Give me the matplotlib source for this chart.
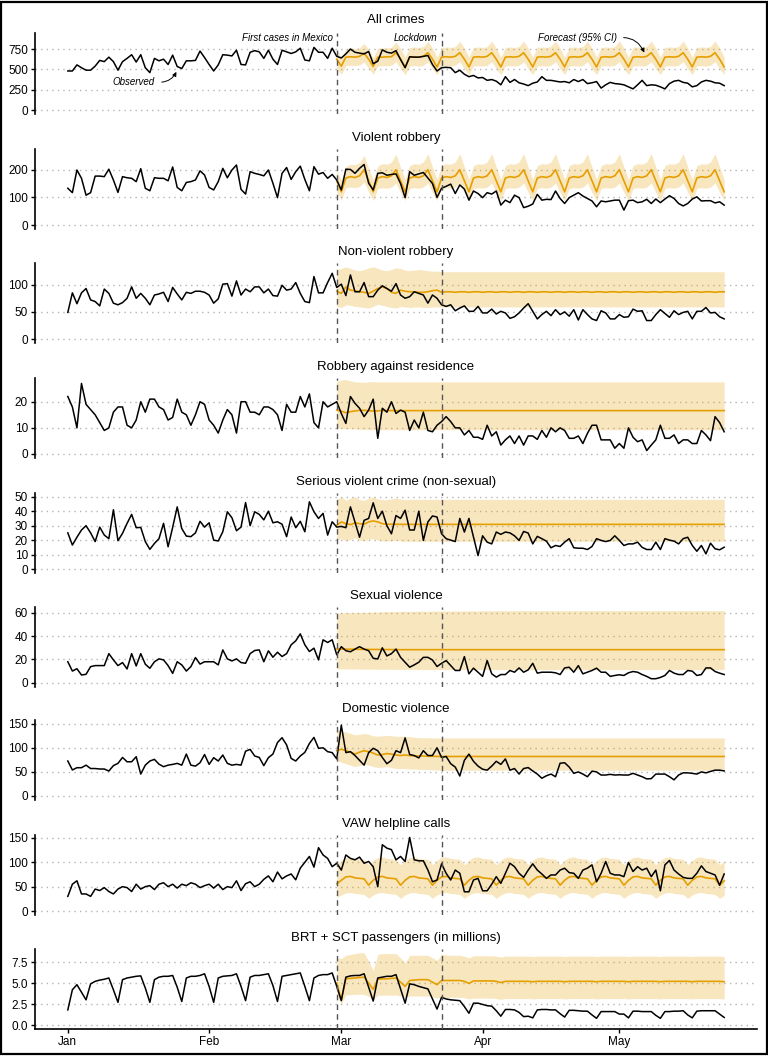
import matplotlib
matplotlib.use("Agg")
import matplotlib.pyplot as plt
import matplotlib.dates as mdates
import pandas as pd
from matplotlib.patches import Rectangle

plt.rcParams['font.family'] = ['Liberation Sans', 'DejaVu Sans']

# ---------------- data ----------------
dates = pd.date_range("2020-01-01", "2020-05-24", freq="D")
fc_dates = pd.date_range("2020-02-29", "2020-05-24", freq="D")
first_cases = pd.Timestamp("2020-02-29")
lockdown = pd.Timestamp("2020-03-23")

titles = ["All crimes", "Violent robbery", "Non-violent robbery", "Robbery against residence",
          "Serious violent crime (non-sexual)", "Sexual violence", "Domestic violence",
          "VAW helpline calls", "BRT + SCT passengers (in millions)"]

month_ticks = ["2020-01-01", "2020-02-01", "2020-03-01", "2020-04-01", "2020-05-01"]
month_labels = ["Jan", "Feb", "Mar", "Apr", "May"]

# 1 All crimes
obs1 = [480,480,555,520,490,490,540,610,595,650, 595,490,595,635,680,590,680,520,460,635,
        605,625,560,675,535,510,605,605,610,725, 645,560,480,555,680,675,665,735,560,555,
        710,730,715,635,735,625,560,735,715,695, 715,760,615,605,770,710,710,635,760,660,
        640,690,750,710,700,690,720,570,600,740, 710,700,730,620,520,655,650,650,660,670,
        560,480,520,525,520,460,490,440,410,425, 395,400,365,375,355,310,410,340,375,335,
        320,300,330,345,410,365,365,355,345,350, 335,375,350,375,325,335,350,270,310,340,
        325,320,310,285,260,310,365,300,310,305, 285,260,325,355,365,340,330,285,300,345,
        365,355,335,330,300]
fc1_mean = [625,
            540,650,655,650,660,700,625, 535,650,650,655,655,705,630,
            530,650,655,650,660,705,625, 530,650,655,650,660,705,625,
            530,650,655,650,660,705,625, 530,650,655,650,660,705,625,
            530,650,655,650,660,705,625, 530,650,655,650,660,705,625,
            530,650,655,650,660,705,625, 530,650,655,650,660,705,625,
            530,650,655,650,660,705,625, 530,650,655,650,660,705,625,
            530]
fc1_hi = [750,
          640,750,760,755,765,820,745, 645,760,765,765,770,835,755,
          650,770,775,770,780,845,760, 650,770,775,770,780,845,760,
          650,770,775,770,780,848,760, 650,770,775,770,780,848,760,
          650,770,775,770,780,850,760, 650,770,775,770,780,850,760,
          650,770,775,770,780,850,760, 650,770,775,770,780,850,760,
          650,770,775,770,780,850,760, 650,770,775,770,780,850,760,
          650]
fc1_lo = [500,
          440,545,550,545,555,590,510, 440,540,545,545,550,595,510,
          435,540,545,540,550,595,505, 435,540,545,540,550,595,505,
          435,540,545,540,550,595,505, 435,540,545,540,550,595,505,
          435,540,545,540,550,595,505, 435,540,545,540,550,595,505,
          435,540,545,540,550,595,505, 435,540,545,540,550,595,505,
          435,540,545,540,550,595,505, 435,540,545,540,550,595,505,
          435]

# 2 Violent robbery
obs2 = [133,117,199,169,108,117,177,177,175,202, 163,118,175,171,169,157,204,133,124,171,
        169,169,160,210,136,124,154,157,163,196, 181,136,127,157,205,171,199,217,129,112,
        193,187,183,178,199,151,99,187,208,165, 193,213,165,124,211,184,190,169,183,163,
        127,202,201,187,205,219,151,127,187,189, 180,183,185,150,99,193,180,185,190,170,
        150,100,133,140,148,114,145,130,90,123, 114,99,117,112,123,72,90,81,108,99,
        63,68,76,111,90,93,92,123,96,78, 99,108,117,105,96,87,66,87,84,87,
        90,90,54,88,90,81,84,93,78,94, 81,94,106,96,78,69,78,94,102,87,
        88,88,80,84,72]
fc2_mean = [160,
            120,170,175,172,178,200,160, 120,170,175,172,178,200,160,
            120,170,175,172,178,200,160, 120,170,175,172,178,200,160,
            120,170,175,172,178,200,160, 120,170,175,172,178,200,160,
            120,170,175,172,178,200,160, 120,170,175,172,178,200,160,
            120,170,175,172,178,200,160, 120,170,175,172,178,200,160,
            120,170,175,172,178,200,160, 120,170,175,172,178,200,160,
            120]
fc2_hi = [200,
          160,212,220,218,226,252,205, 163,214,222,220,228,256,208,
          165,215,222,220,228,258,210, 165,215,222,220,228,258,210,
          165,215,222,220,228,258,210, 165,215,222,220,228,258,210,
          165,215,222,220,228,258,210, 165,215,222,220,228,258,210,
          165,215,222,220,228,258,210, 165,215,222,220,228,258,210,
          165,215,222,220,228,258,210, 165,215,222,220,228,258,210,
          165]
fc2_lo = [120,
          90,134,137,135,139,155,120, 88,132,135,133,137,152,118,
          88,132,135,133,137,152,118, 88,132,135,133,137,152,118,
          88,132,135,133,137,152,118, 88,132,135,133,137,152,118,
          88,132,135,133,137,152,118, 88,132,135,133,137,152,118,
          88,132,135,133,137,152,118, 88,132,135,133,137,152,118,
          88,132,135,133,137,152,118, 88,132,135,133,137,152,118,
          88]

# 3 Non-violent robbery
obs3 = [49,85,65,85,93,72,69,61,92,84, 66,63,67,75,96,75,84,75,63,81,
        83,86,69,95,83,72,86,84,88,88, 86,81,66,74,101,102,79,107,81,92,
        87,96,96,85,92,80,79,99,90,92, 104,84,69,67,115,85,85,104,121,95,
        101,80,118,87,87,104,78,78,90,98, 93,88,102,81,75,78,87,84,81,66,
        81,75,63,60,63,52,57,61,51,51, 60,48,48,55,46,51,48,38,41,48,
        57,65,51,37,45,51,43,54,45,50, 42,54,35,54,45,37,34,52,48,37,
        37,45,40,41,55,51,52,34,34,45, 54,47,40,52,45,49,51,37,51,51,
        58,48,49,41,37]
fc3_mean = [88,84,96,90,89,87,86,84,88,93, 96,93,86,84,90,88,87,87,86,86,
            87,89,90,86,87,87,86,87,87,86, 87,87,86,87,87,86,87,87,86,87,
            87,86,87,87,86,87,87,86,87,87, 86,87,87,86,87,87,86,87,87,86,
            87,87,86,87,87,86,87,87,86,87, 87,86,87,87,86,87,87,86,87,87,
            86,87,87,86,87,87]
fc3_hi = [128,130,133,130,127,126,128,131,133,130, 127,126,128,131,130,127,126,127,128,127,
          126,125,125,124,124,124,124,124,124,124, 124,124,124,124,124,124,124,124,124,124,
          124,124,124,124,124,124,124,124,124,124, 124,124,124,124,124,124,124,124,124,124,
          124,124,124,124,124,124,124,124,124,124, 124,124,124,124,124,124,124,124,124,124,
          124,124,124,124,124,124]
fc3_lo = [60,58,63,62,60,59,58,57,60,64, 62,60,58,57,60,59,58,59,59,58,
          58,59,59,59,59,59,59,59,59,59, 59,59,59,59,59,59,59,59,59,59,
          59,59,59,59,59,59,59,59,59,59, 59,59,59,59,59,59,59,59,59,59,
          59,59,59,59,59,59,59,59,59,59, 59,59,59,59,59,59,59,59,59,59,
          59,59,59,59,59,59]

# 4 Robbery against residence
obs4 = [22,18,10,27,19,17,15,12,9,10, 16,18,18,11,10,13,20,16,21,21,
        18,17,13,14,21,16,15,11,15,20, 19,13,11,8,13,17,15,8,20,20,
        16,16,15,18,18,17,15,9,19,16, 16,22,18,23,12,10,20,18,19,20,
        15.5,11.7,22,19.4,17.5,14.3,16.8,21,6,17.5, 16,20,15.5,16.8,16,9,13,10,16,9,
        8.5,11,12.4,14.3,12.4,10,10,7.3,9,6.4, 6.4,5.6,11,6.9,8.5,3.4,5.4,6.9,4,6.9,
        3.4,6.9,6.9,5.6,9,6.4,10,8.5,10,9, 6,6,6.9,4,7.9,11,11,5.4,5.4,5.4,
        2.2,4,2.2,10,6.4,4.7,5.4,1.3,3.4,5.4, 11,6,6,7.3,4,5.4,5.4,4,4,9,
        7.3,5.1,14.3,12,8.5]
fc4_mean = [16.8,16.4,15.8,16.2,16.5,16.7,16.7,16.6,16.4,16.5, 16.7,16.6,16.6,16.6,16.6,16.6,16.6,16.6,16.6,16.6,
            16.6,16.6,16.6,16.6,16.6,16.6,16.6,16.6,16.6,16.6, 16.6,16.6,16.6,16.6,16.6,16.6,16.6,16.6,16.6,16.6,
            16.6,16.6,16.6,16.6,16.6,16.6,16.6,16.6,16.6,16.6, 16.6,16.6,16.6,16.6,16.6,16.6,16.6,16.6,16.6,16.6,
            16.6,16.6,16.6,16.6,16.6,16.6,16.6,16.6,16.6,16.6, 16.6,16.6,16.6,16.6,16.6,16.6,16.6,16.6,16.6,16.6,
            16.6,16.6,16.6,16.6,16.6,16.6]
fc4_hi = [27.8,28.3,28.5,28.0,27.6,27.5,27.5,27.6,27.7,27.6, 27.6,27.6,27.6,27.6,27.6,27.6,27.6,27.6,27.6,27.6,
          27.6,27.6,27.6,27.6,27.6,27.6,27.6,27.6,27.6,27.6, 27.6,27.6,27.6,27.6,27.6,27.6,27.6,27.6,27.6,27.6,
          27.6,27.6,27.6,27.6,27.6,27.6,27.6,27.6,27.6,27.6, 27.6,27.6,27.6,27.6,27.6,27.6,27.6,27.6,27.6,27.6,
          27.6,27.6,27.6,27.6,27.6,27.6,27.6,27.6,27.6,27.6, 27.6,27.6,27.6,27.6,27.6,27.6,27.6,27.6,27.6,27.6,
          27.6,27.6,27.6,27.6,27.6,27.6]
fc4_lo = [10.0,9.8,9.6,9.7,9.6,9.5,9.4,9.4,9.3,9.3, 9.3,9.3,9.3,9.3,9.3,9.3,9.3,9.3,9.3,9.3,
          9.3,9.3,9.3,9.3,9.3,9.3,9.3,9.3,9.3,9.3, 9.3,9.3,9.3,9.3,9.3,9.3,9.3,9.3,9.3,9.3,
          9.3,9.3,9.3,9.3,9.3,9.3,9.3,9.3,9.3,9.3, 9.3,9.3,9.3,9.3,9.3,9.3,9.3,9.3,9.3,9.3,
          9.3,9.3,9.3,9.3,9.3,9.3,9.3,9.3,9.3,9.3, 9.3,9.3,9.3,9.3,9.3,9.3,9.3,9.3,9.3,9.3,
          9.3,9.3,9.3,9.3,9.3,9.3]

# 5 Serious violent crime
obs5 = [25,16.6,22,27,30,25,19,29,23.5,21, 41,19.6,24.7,31.6,37.8,28.6,28.8,19,13.6,17.7,
        21,31.6,15.4,28.8,43,28,22.8,22.4,25,33, 29,32,20,19.4,25.8,39.6,35.5,26.5,29,46,
        30,39.6,37.8,34,40,32,32.7,31,22.4,36, 28.6,33,25.8,46.5,39.6,35,38.5,23.5,32.7,29,
        29.5,28.6,43,32.6,22,33.7,35,45.8,35,40, 30,24.4,37,35,40.7,27,27,40,19.8,32.6,
        36.7,36,24.4,21,20,19,35,25.6,35,22, 9.3,23,18.6,17.4,25.6,24,25.6,25,23,19.8,
        26,24.9,17.4,22.6,21,19.3,14.7,16.3,15.6,18.6, 21,14.7,14.4,14.4,13.5,15.6,21,19.8,19,19.8,
        23,19.8,16.3,17.4,17.4,18.6,15,13.5,13.5,18.6, 13.5,21,20,19.3,17.4,21,22,16.3,12.3,16.3,
        10.5,17.9,14,13.3,15.1]
fc5_mean = [30.2,32.6,31.4,30.7,31.9,31.4,31,32.6,33.3,32.6, 31.4,31,31,31,30.9,30.9,30.9,30.9,30.9,30.9,
            30.9,30.9,30.9,30.9,30.9,30.9,30.9,30.9,30.9,30.9, 30.9,30.9,30.9,30.9,30.9,30.9,30.9,30.9,30.9,30.9,
            30.9,30.9,30.9,30.9,30.9,30.9,30.9,30.9,30.9,30.9, 30.9,30.9,30.9,30.9,30.9,30.9,30.9,30.9,30.9,30.9,
            30.9,30.9,30.9,30.9,30.9,30.9,30.9,30.9,30.9,30.9, 30.9,30.9,30.9,30.9,30.9,30.9,30.9,30.9,30.9,30.9,
            30.9,30.9,30.9,30.9,30.9,30.9]
fc5_hi = [48,50,47.5,49,50,48,47.5,49,50,48.5, 48,48,48.5,49,48.5,48,48.2,48.2,48.2,48.2,
          48.2,48.2,48.2,48.2,48.2,48.2,48.2,48.2,48.2,48.2, 48.2,48.2,48.2,48.2,48.2,48.2,48.2,48.2,48.2,48.2,
          48.2,48.2,48.2,48.2,48.2,48.2,48.2,48.2,48.2,48.2, 48.2,48.2,48.2,48.2,48.2,48.2,48.2,48.2,48.2,48.2,
          48.2,48.2,48.2,48.2,48.2,48.2,48.2,48.2,48.2,48.2, 48.2,48.2,48.2,48.2,48.2,48.2,48.2,48.2,48.2,48.2,
          48.2,48.2,48.2,48.2,48.2,48.2]
fc5_lo = [20,21,19.5,20.5,21.5,20,19.5,20.5,21,20, 19.5,19.5,19.5,20,19.5,19.2,19.2,19.2,19.2,19.2,
          19.2,19.2,19.2,19.2,19.2,19.2,19.2,19.2,19.2,19.2, 19.2,19.2,19.2,19.2,19.2,19.2,19.2,19.2,19.2,19.2,
          19.2,19.2,19.2,19.2,19.2,19.2,19.2,19.2,19.2,19.2, 19.2,19.2,19.2,19.2,19.2,19.2,19.2,19.2,19.2,19.2,
          19.2,19.2,19.2,19.2,19.2,19.2,19.2,19.2,19.2,19.2, 19.2,19.2,19.2,19.2,19.2,19.2,19.2,19.2,19.2,19.2,
          19.2,19.2,19.2,19.2,19.2,19.2]

# 6 Sexual violence
obs6 = [18,10,12,6.6,7.2,13.8,14.7,14.7,14.7,25, 19.6,14.7,17.3,11.8,25,14.4,25,15.9,12.4,18,
        20.5,19.6,14.7,8,18,15.3,10,13.8,21.6,16, 18,18,18,15.3,28.2,20.5,18.7,20.5,17.3,16.7,
        25,27.7,28.2,18,27.4,21.9,26.2,22.5,25,32.6, 36,42,32.6,26.8,29.7,19.6,36.9,34.6,36.9,24,
        31,27.5,26.6,28.9,31,28.9,27.5,21,20.4,30, 23,25,28.9,21.8,17.6,13.3,15.3,17.6,21.8,21.8,
        19.5,13.9,16.7,19,14.7,10.5,10.5,22.4,7.6,12.5, 9,5.4,19,7.6,4.8,7,7,10.5,9,12.7,
        9,11,16.7,8.2,9,9,9,8.5,7,12.7, 13.3,9,14.7,7.6,9,10.5,12.5,9,9,5.4,
        6.2,6.8,6.2,8.5,9.6,9,7,5.4,3.4,3.4, 4.5,6.2,10.5,8.2,7,7,10.5,9.9,6.2,7,
        12.7,12.7,9.6,8.2,7]
fc6_mean = [28.9,28.9,28.8,28.8,28.7,28.7,28.7,28.6,28.6,28.6, 28.5,28.5,28.5,28.5,28.4,28.4,28.4,28.4,28.4,28.4,
            28.4,28.4,28.4,28.4,28.4,28.4,28.4,28.4,28.4,28.4, 28.4,28.4,28.4,28.4,28.4,28.4,28.4,28.4,28.4,28.4,
            28.4,28.4,28.4,28.4,28.4,28.4,28.4,28.4,28.4,28.4, 28.4,28.4,28.4,28.4,28.4,28.4,28.4,28.4,28.4,28.4,
            28.4,28.4,28.4,28.4,28.4,28.4,28.4,28.4,28.4,28.4, 28.4,28.4,28.4,28.4,28.4,28.4,28.4,28.4,28.4,28.4,
            28.4,28.4,28.4,28.4,28.4,28.4]
fc6_hi = [60,60.1,60.2,60.3,60.4,60.5,60.6,60.7,60.8,60.9, 61,61.1,61.2,61.2,61.3,61.3,61.4,61.4,61.5,61.5,
          61.5,61.6,61.6,61.6,61.7,61.7,61.7,61.7,61.8,61.8, 61.8,61.8,61.8,61.9,61.9,61.9,61.9,61.9,61.9,62,
          62,62,62,62,62,62,62,62,62,62, 62,62,62,62,62,62,62,62,62,62,
          62,62,62,62,62,62,62,62,62,62, 62,62,62,62,62,62,62,62,62,62,
          62,62,62,62,62,62]
fc6_lo = [11.9,11.9,11.8,11.8,11.7,11.7,11.6,11.6,11.6,11.5, 11.5,11.5,11.5,11.4,11.4,11.4,11.4,11.4,11.3,11.3,
          11.3,11.3,11.3,11.3,11.3,11.3,11.3,11.3,11.3,11.3, 11.3,11.3,11.3,11.3,11.3,11.3,11.3,11.3,11.3,11.3,
          11.3,11.3,11.3,11.3,11.3,11.3,11.3,11.3,11.3,11.3, 11.3,11.3,11.3,11.3,11.3,11.3,11.3,11.3,11.3,11.3,
          11.3,11.3,11.3,11.3,11.3,11.3,11.3,11.3,11.3,11.3, 11.3,11.3,11.3,11.3,11.3,11.3,11.3,11.3,11.3,11.3,
          11.3,11.3,11.3,11.3,11.3,11.3]

# 7 Domestic violence
obs7 = [72.6,54,58.7,58.7,64,57,57,56,56,51.8, 63,67.7,80,71,71,81.5,45.6,64,72.6,76,
        66,60.8,64,65.6,67.7,64,87,64,62,69, 86,65.6,79.5,72.6,85,67.7,64,65.6,64,93,
        96.7,83,80,63,79.5,87,111,121,106,78, 72.6,83,90.5,109,121.6,99,100,92,90,77,
        147,90,92,84,74,64,90,99,94,80, 67,74,94,90,120.6,86,84,79,94,84,
        84,100,80,82,67,60,41.5,74,87,72, 62,55.6,53.6,62,72,65.6,77,53.6,57,45.5,
        57,59,52,45.5,36.8,42,45.5,40,68,69, 60,47,50,45.5,40,51.6,50,43.5,43.5,44.9,
        43.5,44,43.5,43.5,47,43.5,40,35.5,36,45.5, 45.5,45.5,40,33.5,43.5,48,48,47,45.5,50,
        48,51,53.6,53.6,52]
fc7_mean = [94,97,94,91,87,91,94,92,89,85, 86,88,87,85,84,85,84,83,83,83,
            82.5,82.4,82.2,82,82,82,82,82,82,82, 82,82,82,82,82,82,82,82,82,82,
            82,82,82,82,82,82,82,82,82,82, 82,82,82,82,82,82,82,82,82,82,
            82,82,82,82,82,82,82,82,82,82, 82,82,82,82,82,82,82,82,82,82,
            82,82,82,82,82,82]
fc7_hi = [137,135,133,130,127,128,130,128,125,124, 125,126,125,124,124,124,123,122,121,121,
          121,120.6,120.5,120.5,120.5,120.5,120.5,120.5,120.5,120.5, 120.5,120.5,120.5,120.5,120.5,120.5,120.5,120.5,120.5,120.5,
          120.5,120.5,120.5,120.5,120.5,120.5,120.5,120.5,120.5,120.5, 120.5,120.5,120.5,120.5,120.5,120.5,120.5,120.5,120.5,120.5,
          120.5,120.5,120.5,120.5,120.5,120.5,120.5,120.5,120.5,120.5, 120.5,120.5,120.5,120.5,120.5,120.5,120.5,120.5,120.5,120.5,
          120.5,120.5,120.5,120.5,120.5,120.5]
fc7_lo = [74,70,67,64,61,63,66,64,61,59, 60,61,59,57,57,57,56,56,55,55,
          55,54,54,53.6,53.5,53.5,53.5,53.5,53.5,53.5, 53.5,53.5,53.5,53.5,53.5,53.5,53.5,53.5,53.5,53.5,
          53.5,53.5,53.5,53.5,53.5,53.5,53.5,53.5,53.5,53.5, 53.5,53.5,53.5,53.5,53.5,53.5,53.5,53.5,53.5,53.5,
          53.5,53.5,53.5,53.5,53.5,53.5,53.5,53.5,53.5,53.5, 53.5,53.5,53.5,53.5,53.5,53.5,53.5,53.5,53.5,53.5,
          53.5,53.5,53.5,53.5,53.5,53.5]

# 8 VAW helpline calls
obs8 = [30,55,62,35,35,30,45,42,48,40, 35,45,50,48,40,55,45,50,52,44,
        55,58,50,55,47,55,52,58,55,48, 52,55,47,55,44,50,48,62,42,56,
        60,50,55,65,72,60,80,66,72,76, 64,88,100,112,90,130,115,108,91,98,
        84,115,108,105,110.6,98,101.6,91,49.8,136, 129,126,105,112,101.6,151,105,103,103,84,
        60,63.6,96.8,77.4,63.6,84,77.4,39.4,39.4,63.6, 67,41.5,41.5,55,70.5,56.7,77.4,98,91,77.4,
        69,84,96.8,84,76,67,74,74,84,87.8, 78.8,77.4,67,84,88,94.7,60,77.4,101.6,77.4,
        74,74,70.5,99.5,81,91,84,87.8,70.5,84, 41.5,94.7,103.7,84,76,69,67,67,77.4,92.6,
        81,77.4,74,53,76]
fc8_mean = [56,
            63,70,71,68,67,66,53, 63,70,71,68,67,66,53,
            63,70,71,68,67,66,53, 63,70,71,68,67,66,53,
            63,70,71,68,67,66,53, 63,70,71,68,67,66,53,
            63,70,71,68,67,66,53, 63,70,71,68,67,66,53,
            63,70,71,68,67,66,53, 63,70,71,68,67,66,53,
            63,70,71,68,67,66,53, 63,70,71,68,67,66,53,
            62]
fc8_hi = [95,
          104,110,111,108,107,106,95, 104,110,111,108,107,106,95,
          104,110,111,108,107,106,95, 104,110,111,108,107,106,95,
          104,110,111,108,107,106,95, 104,110,111,108,107,106,95,
          104,110,111,108,107,106,95, 104,110,111,108,107,106,95,
          104,110,111,108,107,106,95, 104,110,111,108,107,106,95,
          104,110,111,108,107,106,95, 104,110,111,108,107,106,95,
          103]
fc8_lo = [28,
          33,37,38,36,35,34,26, 33,37,38,36,35,34,26,
          33,37,38,36,35,34,26, 33,37,38,36,35,34,26,
          33,37,38,36,35,34,26, 33,37,38,36,35,34,26,
          33,37,38,36,35,34,26, 33,37,38,36,35,34,26,
          33,37,38,36,35,34,26, 33,37,38,36,35,34,26,
          33,37,38,36,35,34,26, 33,37,38,36,35,34,26,
          32]

# 9 BRT + SCT passengers (millions)
obs9 = [1.8,4.2,4.8,3.9,3.0,
        4.9,5.2,5.35,5.45,5.6,4.2,2.7, 5.4,5.6,5.7,5.8,5.85,4.4,2.7,
        5.4,5.7,5.8,5.8,5.9,4.5,2.8, 5.6,5.8,5.8,5.9,6.1,4.6,2.7,
        5.6,5.8,5.85,5.9,6.1,4.6,2.9, 5.7,5.9,5.9,6.0,6.1,4.7,2.8,
        5.8,5.9,6.0,6.1,6.2,4.6,2.9, 5.6,5.9,6.0,6.0,6.2,4.6,
        2.9,
        5.7,5.85,5.9,5.9,6.1,4.5,2.85, 5.6,5.7,5.8,5.8,6.0,4.3,2.6,
        4.9,4.8,4.6,4.45,4.3,3.1,1.9, 3.3,3.1,3.0,2.95,2.9,2.2,1.4,
        2.6,2.6,2.45,2.3,2.25,1.7,1.05, 1.85,1.85,1.8,1.5,1.0,1.05,0.85,
        1.8,1.85,1.85,1.8,1.8,1.35,0.95, 1.75,1.75,1.7,1.65,1.65,1.2,0.8,
        1.6,1.6,1.6,1.6,1.3,1.3,0.85, 1.65,1.65,1.6,1.6,1.6,1.15,0.8,
        1.6,1.6,1.65,1.65,1.7,1.2,0.85, 1.65,1.7,1.7,1.7,1.7,1.3,0.9]
fc9_mean = [5.0,
            3.0,5.5,5.55,5.6,5.65,5.7,5.0, 4.25,5.45,5.5,5.5,5.55,5.6,5.1,
            4.6,5.3,5.35,5.4,5.4,5.4,5.1, 4.8,5.3,5.3,5.3,5.3,5.3,5.2,
            4.95,5.25,5.25,5.25,5.25,5.25,5.2, 5.05,5.2,5.2,5.2,5.2,5.2,5.2,
            5.15,5.2,5.2,5.2,5.2,5.2,5.2, 5.15,5.2,5.2,5.2,5.2,5.2,5.2,
            5.15,5.2,5.2,5.2,5.2,5.2,5.2, 5.15,5.2,5.2,5.2,5.2,5.2,5.2,
            5.15,5.2,5.2,5.2,5.2,5.2,5.2, 5.15,5.2,5.2,5.2,5.2,5.2,5.2,
            5.15]
fc9_hi = [8.0,
          7.9,8.3,8.4,8.5,8.6,8.6,7.6, 6.5,8.4,8.5,8.5,8.5,8.5,8.0,
          7.4,8.3,8.3,8.3,8.3,8.3,8.0, 7.7,8.4,8.35,8.3,8.3,8.3,8.2,
          8.0,8.25,8.25,8.25,8.25,8.25,8.2, 8.1,8.2,8.2,8.2,8.2,8.2,8.2,
          8.15,8.2,8.2,8.2,8.2,8.2,8.2, 8.15,8.2,8.2,8.2,8.2,8.2,8.2,
          8.15,8.2,8.2,8.2,8.2,8.2,8.2, 8.15,8.2,8.2,8.2,8.2,8.2,8.2,
          8.15,8.2,8.2,8.2,8.2,8.2,8.2, 8.15,8.2,8.2,8.2,8.2,8.2,8.2,
          8.15]
fc9_lo = [3.6,
          2.5,3.6,3.6,3.65,3.65,3.65,3.4, 3.0,3.55,3.55,3.55,3.55,3.55,3.45,
          3.3,3.45,3.45,3.45,3.45,3.45,3.35, 3.2,3.3,3.3,3.3,3.3,3.3,3.25,
          3.1,3.2,3.2,3.2,3.2,3.2,3.15, 3.05,3.15,3.15,3.15,3.15,3.15,3.15,
          3.1,3.15,3.15,3.15,3.15,3.15,3.15, 3.1,3.15,3.15,3.15,3.15,3.15,3.15,
          3.1,3.15,3.15,3.15,3.15,3.15,3.15, 3.1,3.15,3.15,3.15,3.15,3.15,3.15,
          3.1,3.15,3.15,3.15,3.15,3.15,3.15, 3.1,3.15,3.15,3.15,3.15,3.15,3.15,
          3.1]

observed = [obs1, obs2, obs3, obs4, obs5, obs6, obs7, obs8, obs9]
fc_means = [fc1_mean, fc2_mean, fc3_mean, fc4_mean, fc5_mean, fc6_mean, fc7_mean, fc8_mean, fc9_mean]
fc_his = [fc1_hi, fc2_hi, fc3_hi, fc4_hi, fc5_hi, fc6_hi, fc7_hi, fc8_hi, fc9_hi]
fc_los = [fc1_lo, fc2_lo, fc3_lo, fc4_lo, fc5_lo, fc6_lo, fc7_lo, fc8_lo, fc9_lo]

yticks = [[0, 250, 500, 750], [0, 100, 200], [0, 50, 100], [0, 10, 20],
          [0, 10, 20, 30, 40, 50], [0, 20, 40, 60], [0, 50, 100, 150],
          [0, 50, 100, 150], [0, 2.5, 5.0, 7.5]]
ylims = [(-45, 947), (-14, 275), (-7, 140), (-1.5, 29.2), (-2.6, 52.6),
         (-3.3, 65.4), (-7.9, 157.7), (-7.8, 156), (-0.45, 9.05)]

# ---------------- layout ----------------
W, H = 768, 1056
panel_top = [33, 149, 263, 377.7, 493, 606.7, 720, 835, 949]
panel_bot = [113.7, 228.9, 342.8, 457.9, 572.8, 686.5, 799.8, 914.8, 1028.8]
left_px, right_px = 35, 757

ORANGE = "#E69F00"
fig = plt.figure(figsize=(W / 100, H / 100), dpi=100)
fig.patches.append(Rectangle((0.0015, 0.0015), 0.997, 0.997, transform=fig.transFigure,
                             fill=False, edgecolor="black", lw=1.6))

xmin = dates[0] - pd.Timedelta(days=7.2)
xmax = dates[-1] + pd.Timedelta(days=7.2)

axes = []
for i in range(9):
    t, b = panel_top[i], panel_bot[i]
    ax = fig.add_axes([left_px / W, 1 - b / H, (right_px - left_px) / W, (b - t) / H])
    axes.append(ax)
    ax.fill_between(fc_dates, fc_los[i], fc_his[i], color=ORANGE, alpha=0.25, lw=0, zorder=2)
    ax.plot(fc_dates, fc_means[i], color=ORANGE, lw=1.2, zorder=3)
    ax.plot(dates, observed[i], color="black", lw=1.1, zorder=4)
    for d in (first_cases, lockdown):
        ax.axvline(d, color="#555555", lw=1.0, ls=(0, (4, 3)), zorder=5)
    ax.set_xlim(xmin, xmax)
    ax.set_ylim(*ylims[i])
    ax.set_yticks(yticks[i])
    if i == 8:
        ax.set_yticklabels([f"{v:.1f}" for v in yticks[i]])
    ax.yaxis.grid(True, color="#b5b5b5", ls=(0, (1, 3)), lw=1.0)
    ax.set_axisbelow(True)
    for s in ("top", "right"):
        ax.spines[s].set_visible(False)
    ax.spines["left"].set_linewidth(1.2)
    ax.tick_params(axis="y", length=3, width=1, pad=2, labelsize=8.5, colors="black")
    ax.set_title(titles[i], fontsize=9.5, pad=5.5 if i > 0 else 7.5)
    ax.set_xticks(pd.to_datetime(month_ticks))
    if i < 8:
        ax.spines["bottom"].set_visible(False)
        ax.tick_params(axis="x", length=0, labelbottom=False)
    else:
        ax.spines["bottom"].set_linewidth(1.2)
        ax.set_xticklabels(month_labels)
        ax.tick_params(axis="x", length=3, width=1, pad=2.5, labelsize=8.5)

# ---------------- annotations (panel 1) ----------------
ax = axes[0]
num = mdates.date2num
ax.text(num(first_cases - pd.Timedelta(hours=20)), 885, "First cases in Mexico",
        ha="right", va="center", style="italic", fontsize=7)
ax.text(num(lockdown - pd.Timedelta(hours=20)), 885, "Lockdown",
        ha="right", va="center", style="italic", fontsize=7)
ax.annotate("Forecast (95% CI)", xy=(num(pd.Timestamp("2020-05-06 14:00")), 690),
            xytext=(num(pd.Timestamp("2020-04-30 10:00")), 885),
            ha="right", va="center", style="italic", fontsize=7,
            arrowprops=dict(arrowstyle="-|>", color="black", lw=0.7, mutation_scale=6,
                            relpos=(1, 0.5), shrinkA=3, shrinkB=1,
                            connectionstyle="arc3,rad=-0.4"))
ax.annotate("Observed", xy=(num(pd.Timestamp("2020-01-25 02:00")), 500),
            xytext=(num(pd.Timestamp("2020-01-20 02:00")), 348),
            ha="right", va="center", style="italic", fontsize=7,
            arrowprops=dict(arrowstyle="-|>", color="black", lw=0.7, mutation_scale=6,
                            relpos=(1, 0.5), shrinkA=3, shrinkB=2,
                            connectionstyle="arc3,rad=0.4"))

fig.savefig("out.png", dpi=100)
